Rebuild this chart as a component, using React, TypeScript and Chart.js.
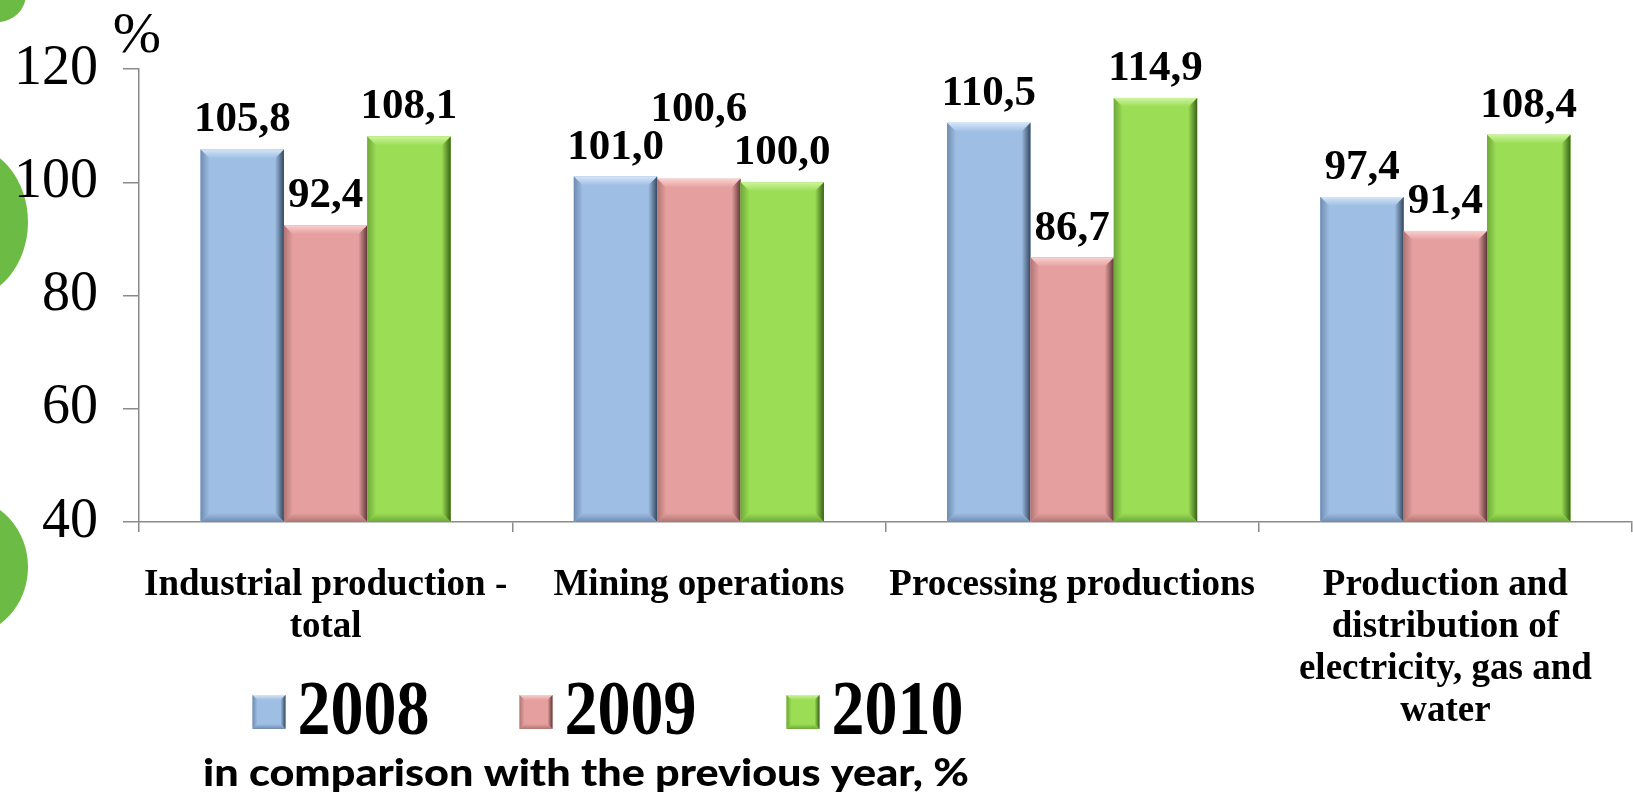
import { useEffect, useRef } from "react";
import { Chart, registerables } from "chart.js";

Chart.register(...registerables);

// ---- data ----
const categories: string[][] = [
  ["Industrial production -", "total"],
  ["Mining operations"],
  ["Processing productions"],
  ["Production and", "distribution of", "electricity, gas and", "water"],
];
const seriesNames = ["2008", "2009", "2010"];
const values2008 = [105.8, 101.0, 110.5, 97.4];
const values2009 = [92.4, 100.6, 86.7, 91.4];
const values2010 = [108.1, 100.0, 114.9, 108.4];
const yTicks = [40, 60, 80, 100, 120];
const yUnit = "%";
const subtitle = "in comparison with the previous year, %";

// ---- style ----
const W = 1633;
const H = 796;
const SERIF = '"Liberation Serif", "Times New Roman", serif';
const seriesColors = [
  { base: "#9fbee4", light: "#d4e5f8", dark: "#34485f", mid: "#6f8cb0" },
  { base: "#e59f9e", light: "#f8d0ce", dark: "#5e3837", mid: "#b07574" },
  { base: "#9bdd55", light: "#cdf59d", dark: "#3a6318", mid: "#6ea83a" },
];

function fmt(v: number) {
  return v.toFixed(1).replace(".", ",");
}

function poly(ctx: CanvasRenderingContext2D, pts: number[][], fill: any) {
  ctx.beginPath();
  ctx.moveTo(pts[0][0], pts[0][1]);
  for (let i = 1; i < pts.length; i++) ctx.lineTo(pts[i][0], pts[i][1]);
  ctx.closePath();
  ctx.fillStyle = fill;
  ctx.fill();
}

function bevelRect(
  ctx: CanvasRenderingContext2D,
  l: number,
  t: number,
  r: number,
  b: number,
  c: { base: string; light: string; dark: string; mid: string },
  bw: number
) {
  ctx.save();
  ctx.fillStyle = c.base;
  ctx.fillRect(l, t, r - l, b - t);
  let g = ctx.createLinearGradient(0, t, 0, t + bw);
  g.addColorStop(0, c.light);
  g.addColorStop(1, c.base);
  poly(ctx, [[l, t], [r, t], [r - bw, t + bw], [l + bw, t + bw]], g);
  g = ctx.createLinearGradient(r - bw, 0, r, 0);
  g.addColorStop(0, c.base);
  g.addColorStop(1, c.dark);
  poly(ctx, [[r, t], [r, b], [r - bw, b - bw], [r - bw, t + bw]], g);
  g = ctx.createLinearGradient(0, b - bw, 0, b);
  g.addColorStop(0, c.base);
  g.addColorStop(1, c.mid);
  poly(ctx, [[l, b], [l + bw, b - bw], [r - bw, b - bw], [r, b]], g);
  g = ctx.createLinearGradient(l, 0, l + bw, 0);
  g.addColorStop(0, c.mid);
  g.addColorStop(1, c.base);
  poly(ctx, [[l, t], [l + bw, t + bw], [l + bw, b - bw], [l, b]], g);
  ctx.restore();
}

const decorPlugin = {
  id: "decor",
  beforeDraw(chart: any) {
    const ctx: CanvasRenderingContext2D = chart.ctx;
    ctx.save();
    ctx.fillStyle = "#6cbb45";
    ctx.beginPath();
    ctx.ellipse(-2, -6, 28, 28, 0, 0, Math.PI * 2);
    ctx.fill();
    ctx.beginPath();
    ctx.ellipse(-36, 222, 64, 77, 0, 0, Math.PI * 2);
    ctx.fill();
    ctx.beginPath();
    ctx.ellipse(-36, 567, 64, 69, 0, 0, Math.PI * 2);
    ctx.fill();
    ctx.restore();
  },
};

const barPlugin = {
  id: "bevelBars",
  afterDatasetsDraw(chart: any) {
    const ctx: CanvasRenderingContext2D = chart.ctx;
    const area = chart.chartArea;
    chart.data.datasets.forEach((ds: any, i: number) => {
      const meta = chart.getDatasetMeta(i);
      meta.data.forEach((el: any) => {
        const l = el.x - el.width / 2;
        const r = el.x + el.width / 2;
        const bottom = Math.min(el.base, area.bottom);
        const top = Math.max(el.y, area.top);
        bevelRect(ctx, l, top, r, bottom, seriesColors[i], 9);
      });
    });
    // value labels with simple collision avoidance inside each category
    ctx.save();
    ctx.fillStyle = "#000";
    ctx.font = `bold 43px ${SERIF}`;
    ctx.textAlign = "center";
    ctx.textBaseline = "alphabetic";
    const textH = 30;
    const nCat = chart.data.labels.length;
    for (let j = 0; j < nCat; j++) {
      const placed: { l: number; r: number; t: number; b: number }[] = [];
      chart.data.datasets.forEach((ds: any, i: number) => {
        const el = chart.getDatasetMeta(i).data[j];
        const txt = fmt(ds.data[j]);
        const w = ctx.measureText(txt).width;
        let base = el.y - 18;
        let box = { l: el.x - w / 2, r: el.x + w / 2, t: base - textH, b: base };
        const overlaps = () =>
          placed.filter(
            (p) => box.l < p.r - 2 && box.r > p.l + 2 && box.t < p.b && box.b > p.t
          );
        let guard = 0;
        let over = overlaps();
        while (over.length && guard < 5) {
          const minTop = Math.min(...over.map((p) => p.t));
          base = minTop - 8;
          box = { l: box.l, r: box.r, t: base - textH, b: base };
          over = overlaps();
          guard++;
        }
        placed.push(box);
        ctx.fillText(txt, el.x, base);
      });
    }
    ctx.restore();
  },
};

const extrasPlugin = {
  id: "extras",
  afterDraw(chart: any) {
    const ctx: CanvasRenderingContext2D = chart.ctx;
    const area = chart.chartArea;
    ctx.save();
    // unit label
    ctx.fillStyle = "#000";
    ctx.font = `58px ${SERIF}`;
    ctx.textAlign = "center";
    ctx.textBaseline = "alphabetic";
    ctx.fillText(yUnit, area.left - 2, 52);

    // legend
    const legendCenter = 608;
    const legendY = 712;
    const boxW = 33;
    const boxH = 34;
    const gapBT = 12;
    const itemGap = 90;
    ctx.font = `bold 66px ${SERIF}`;
    const widths = seriesNames.map((n) => ctx.measureText(n).width);
    const total =
      widths.reduce((a, w) => a + boxW + gapBT + w, 0) + itemGap * (seriesNames.length - 1);
    let x = legendCenter - total / 2;
    seriesNames.forEach((n, i) => {
      bevelRect(ctx, x, legendY - boxH / 2, x + boxW, legendY + boxH / 2, seriesColors[i], 5);
      x += boxW + gapBT;
      ctx.save();
      ctx.translate(x, legendY);
      ctx.scale(1, 1.17);
      ctx.fillStyle = "#000";
      ctx.font = `bold 66px ${SERIF}`;
      ctx.textAlign = "left";
      ctx.textBaseline = "middle";
      ctx.fillText(n, 0, 2);
      ctx.restore();
      x += widths[i] + itemGap;
    });

    // subtitle
    ctx.font = '900 38px Lato, "Open Sans", sans-serif';
    const sw = ctx.measureText(subtitle).width;
    const sx = 766 / sw;
    ctx.translate(586, 786);
    ctx.scale(sx, 1);
    ctx.textAlign = "center";
    ctx.textBaseline = "alphabetic";
    ctx.fillStyle = "#000";
    ctx.fillText(subtitle, 0, 0);
    ctx.restore();
  },
};

export default function App() {
  const ref = useRef<HTMLCanvasElement | null>(null);

  useEffect(() => {
    document.body.style.margin = "0";
    document.body.style.overflow = "hidden";
    const canvas = ref.current;
    if (!canvas) return;
    const step = yTicks[1] - yTicks[0];
    const chart = new Chart(canvas, {
      type: "bar",
      data: {
        labels: categories,
        datasets: [values2008, values2009, values2010].map((vals, i) => ({
          label: seriesNames[i],
          data: vals,
          backgroundColor: seriesColors[i].base,
          borderWidth: 0,
          categoryPercentage: 0.67,
          barPercentage: 1.0,
        })),
      },
      options: {
        responsive: false,
        animation: false,
        events: [],
        layout: { padding: { left: 0, right: 1, top: 69, bottom: 0 } },
        plugins: {
          legend: { display: false },
          tooltip: { enabled: false },
          title: { display: false },
        },
        scales: {
          x: {
            grid: {
              display: true,
              drawOnChartArea: false,
              drawTicks: true,
              tickLength: 10,
              color: "#8a8a8a",
              lineWidth: 1.5,
              offset: true,
            },
            border: { display: true, color: "#8a8a8a", width: 1.5 },
            ticks: {
              color: "#000",
              font: { family: SERIF, size: 37, weight: "bold", lineHeight: 42 / 37 },
              padding: 32,
              maxRotation: 0,
              minRotation: 0,
              autoSkip: false,
            },
            afterFit: (scale: any) => {
              scale.height = H - 522;
            },
          },
          y: {
            min: yTicks[0],
            max: yTicks[yTicks.length - 1],
            ticks: {
              stepSize: step,
              color: "#000",
              font: { family: SERIF, size: 56, weight: "normal" },
              padding: 25,
            },
            grid: {
              display: true,
              drawOnChartArea: false,
              drawTicks: true,
              tickLength: 16,
              color: "#8a8a8a",
              lineWidth: 1.5,
            },
            border: { display: true, color: "#8a8a8a", width: 1.5 },
            afterFit: (scale: any) => {
              scale.width = 139;
            },
          },
        },
      },
      plugins: [decorPlugin, barPlugin, extrasPlugin],
    } as any);
    return () => chart.destroy();
  }, []);

  return (
    <canvas
      ref={ref}
      width={W}
      height={H}
      style={{ display: "block", width: W + "px", height: H + "px" }}
    />
  );
}
